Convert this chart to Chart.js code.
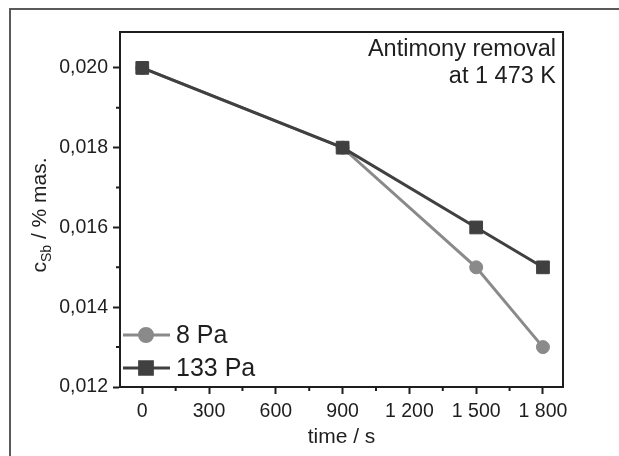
<!DOCTYPE html>
<html>
<head>
<meta charset="utf-8">
<script src="https://cdn.jsdelivr.net/npm/chart.js@4.4.1/dist/chart.umd.min.js"></script>
<style>
  html, body { margin: 0; padding: 0; background: #fff; }
</style>
</head>
<body>
<canvas id="chart" width="619" height="456"></canvas>
<script>
// data
const times = [0, 900, 1500, 1800];
const seriesNames = ["8 Pa", "133 Pa"];
const sb8Pa = [0.020, 0.018, 0.015, 0.013];
const sb133Pa = [0.020, 0.018, 0.016, 0.015];
const xTicks = [0, 300, 600, 900, 1200, 1500, 1800];
const xTickLabels = ["0", "300", "600", "900", "1 200", "1 500", "1 800"];
const yTicks = [0.012, 0.014, 0.016, 0.018, 0.020];
const yTickLabels = ["0,012", "0,014", "0,016", "0,018", "0,020"];
const noteLines = ["Antimony removal", "at 1 473 K"];

const FONT = "'Liberation Sans', Arial, sans-serif";
const INK = "#1e1e1e";
const LIGHT = "#8a8a8a";
const DARK = "#404040";

function toPoints(values) {
  return times.map((t, i) => ({ x: t, y: values[i] }));
}

// midpoints between major ticks
function minorsOf(ticks) {
  const out = [];
  for (let i = 0; i < ticks.length - 1; i++) out.push((ticks[i] + ticks[i + 1]) / 2);
  return out;
}

const extras = {
  id: "extras",
  afterDraw(chart) {
    const ctx = chart.ctx;
    const area = chart.chartArea;
    const xs = chart.scales.x;
    const ys = chart.scales.y;

    ctx.save();
    // top and right plot border
    ctx.strokeStyle = INK;
    ctx.lineWidth = 2;
    ctx.beginPath();
    ctx.moveTo(area.left, area.top);
    ctx.lineTo(area.right, area.top);
    ctx.lineTo(area.right, area.bottom);
    ctx.stroke();

    // minor ticks
    ctx.beginPath();
    minorsOf(xTicks).forEach(v => {
      const px = xs.getPixelForValue(v);
      ctx.moveTo(px, area.bottom);
      ctx.lineTo(px, area.bottom + 4);
    });
    minorsOf(yTicks).forEach(v => {
      const py = ys.getPixelForValue(v);
      ctx.moveTo(area.left, py);
      ctx.lineTo(area.left - 4, py);
    });
    ctx.stroke();

    // legend (inside plot, bottom left)
    const rows = [335, 368];
    chart.data.datasets.forEach((ds, i) => {
      const y = rows[i];
      ctx.strokeStyle = ds.borderColor;
      ctx.lineWidth = 3;
      ctx.beginPath();
      ctx.moveTo(123, y);
      ctx.lineTo(170, y);
      ctx.stroke();
      ctx.fillStyle = ds.borderColor;
      Chart.helpers.drawPoint(ctx, { pointStyle: ds.pointStyle, radius: ds.pointRadius, borderWidth: 1 }, 146, y);
      ctx.fill();
      ctx.fillStyle = INK;
      ctx.font = "25px " + FONT;
      ctx.textAlign = "left";
      ctx.textBaseline = "middle";
      ctx.fillText(ds.label, 176, y + 1);
    });

    // note, top right
    ctx.fillStyle = INK;
    ctx.font = "23.5px " + FONT;
    ctx.textAlign = "right";
    ctx.textBaseline = "alphabetic";
    ctx.fillText(noteLines[0], 556, 56);
    ctx.fillText(noteLines[1], 556, 83);

    // y axis title with subscript
    ctx.translate(46, 215);
    ctx.rotate(-Math.PI / 2);
    const big = "21px " + FONT, small = "14px " + FONT;
    ctx.font = big; const w1 = ctx.measureText("c").width; const w3 = ctx.measureText(" / % mas.").width;
    ctx.font = small; const w2 = ctx.measureText("Sb").width;
    let x0 = -(w1 + w2 + w3) / 2;
    ctx.textAlign = "left";
    ctx.font = big; ctx.fillText("c", x0, 0);
    ctx.font = small; ctx.fillText("Sb", x0 + w1, 5);
    ctx.font = big; ctx.fillText(" / % mas.", x0 + w1 + w2, 0);
    ctx.restore();

    // outer frame
    ctx.save();
    ctx.strokeStyle = "#5a5a5a";
    ctx.lineWidth = 2;
    ctx.beginPath();
    ctx.moveTo(10, 456);
    ctx.lineTo(10, 9);
    ctx.lineTo(619, 9);
    ctx.stroke();
    ctx.restore();
  }
};

new Chart(document.getElementById("chart"), {
  type: "line",
  data: {
    datasets: [
      {
        label: seriesNames[0],
        data: toPoints(sb8Pa),
        borderColor: LIGHT,
        backgroundColor: LIGHT,
        borderWidth: 3,
        pointStyle: "circle",
        pointRadius: 6.5,
        pointBorderWidth: 1,
        order: 1
      },
      {
        label: seriesNames[1],
        data: toPoints(sb133Pa),
        borderColor: DARK,
        backgroundColor: DARK,
        borderWidth: 3,
        pointStyle: "rect",
        pointRadius: 9,
        pointBorderWidth: 1,
        order: 0
      }
    ]
  },
  options: {
    responsive: false,
    animation: false,
    layout: { padding: { left: 0, top: 32, right: 56, bottom: 0 } },
    plugins: { legend: { display: false }, tooltip: { enabled: false } },
    scales: {
      x: {
        type: "linear",
        min: -100,
        max: 1890,
        afterBuildTicks: s => { s.ticks = xTicks.map(v => ({ value: v })); },
        afterFit: s => { s.height = 69; },
        ticks: {
          color: INK,
          font: { family: FONT, size: 19.5 },
          padding: 6,
          maxRotation: 0,
          callback: v => xTickLabels[xTicks.indexOf(v)]
        },
        grid: { drawOnChartArea: false, drawTicks: true, tickLength: 7, tickWidth: 2, tickColor: INK },
        border: { display: true, color: INK, width: 2 },
        title: { display: true, text: "time / s", color: INK, font: { family: FONT, size: 21 }, padding: { top: 0, bottom: 6 } }
      },
      y: {
        type: "linear",
        min: 0.012,
        max: 0.0209,
        afterBuildTicks: s => { s.ticks = yTicks.map(v => ({ value: v })); },
        afterFit: s => { s.width = 120; },
        ticks: {
          color: INK,
          font: { family: FONT, size: 19.5 },
          padding: 5,
          callback: v => yTickLabels[yTicks.findIndex(t => Math.abs(t - v) < 1e-9)]
        },
        grid: { drawOnChartArea: false, drawTicks: true, tickLength: 7, tickWidth: 2, tickColor: INK },
        border: { display: true, color: INK, width: 2 }
      }
    }
  },
  plugins: [extras]
});
</script>
</body>
</html>
